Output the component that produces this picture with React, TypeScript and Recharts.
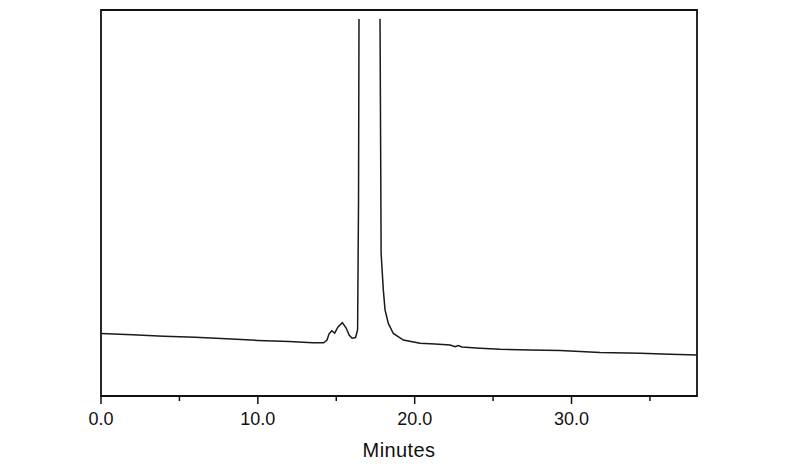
import React from 'react';
import { LineChart, Line, XAxis, YAxis, ReferenceArea } from 'recharts';

// retention time (min) and detector response (arbitrary units, 0-100 visible)
const minutes = [
    0, 2, 4, 6, 8, 10, 12, 13.5, 14.2, 14.41, 14.54, 14.71, 14.9, 15.11, 15.39, 15.63, 15.82, 16.01,
    16.23, 16.36, 16.42, 16.45, 17.1, 17.79, 17.83, 17.86, 18.0, 18.11, 18.32, 18.64, 19.28, 20.34,
    21.3, 22.26, 22.58, 22.77, 23.02, 24.17, 25.45, 27.36, 29.27, 31.82, 34.38, 36.29, 38,
];
const response = [
    16.2, 15.9, 15.5, 15.2, 14.8, 14.4, 14.1, 13.8, 13.8, 14.5, 16.1, 16.9, 16.3, 17.9, 19.0, 17.6, 15.8,
    14.95, 15.15, 17.1, 50.8, 97.7, null, 97.7, 63.7, 37.0, 27.5, 22.3, 18.8, 16.2, 14.5, 13.65,
    13.45, 13.2, 12.8, 13.1, 12.7, 12.4, 12.1, 11.9, 11.8, 11.3, 11.05, 10.8, 10.6,
];
const xTicks = [0, 5, 10, 15, 20, 25, 30, 35];
const xLabels = ['0.0', '', '10.0', '', '20.0', '', '30.0', ''];

const data = minutes.map((t, i) => ({ t, v: response[i] }));

const font = '"Liberation Sans", Arial, sans-serif';

const MinuteTick = ({ x, y, payload }: any) => {
    const i = xTicks.indexOf(payload.value);
    const label = xLabels[i];
    return (
        <g>
            <line x1={x} x2={x} y1={y} y2={y + (label ? 8 : 5)} stroke="#111" strokeWidth={1.5} />
            {label && (
                <text x={x} y={y + 29} textAnchor="middle" fontSize={18} fontFamily={font} fill="#111">
                    {label}
                </text>
            )}
        </g>
    );
};

const AxisTitle = ({ viewBox }: any) => {
    const { x, y, width } = viewBox;
    return (
        <text
            x={x + width / 2}
            y={y + 61}
            textAnchor="middle"
            fontSize={20}
            letterSpacing={0.4}
            fontFamily={font}
            fill="#111"
        >
            Minutes
        </text>
    );
};

export default function App() {
    return (
        <div style={{ position: 'absolute', left: 0, top: 0, width: 800, height: 474, background: '#fff' }}>
            <LineChart width={800} height={474} data={data} margin={{ top: 10, right: 103, bottom: 0, left: 101 }}>
                <XAxis
                    dataKey="t"
                    type="number"
                    domain={[0, 38]}
                    ticks={xTicks}
                    tick={<MinuteTick />}
                    tickLine={false}
                    tickSize={0}
                    tickMargin={0}
                    height={78}
                    axisLine={false}
                    label={{ content: (p: any) => <AxisTitle {...p} /> }}
                />
                <YAxis hide domain={[0, 100]} allowDataOverflow width={0} />
                <ReferenceArea x1={0} x2={38} y1={0} y2={100} fill="none" stroke="#111" strokeWidth={1.8} />
                <Line
                    dataKey="v"
                    type="linear"
                    stroke="#1a1a1a"
                    strokeWidth={1.5}
                    dot={false}
                    connectNulls={false}
                    isAnimationActive={false}
                />
            </LineChart>
        </div>
    );
}
